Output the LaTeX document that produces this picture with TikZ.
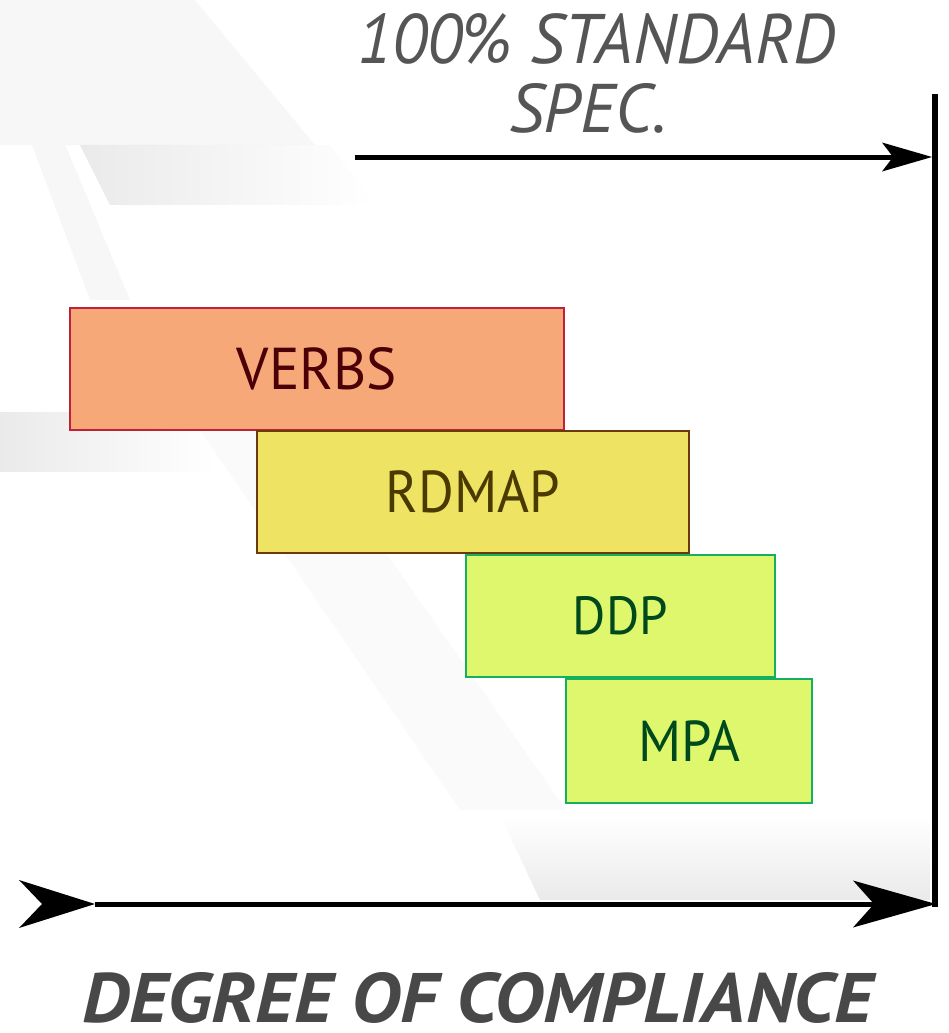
\documentclass[tikz,border=0pt]{standalone}
\usepackage{fontspec}
\setmainfont{PT Sans}
\usetikzlibrary{arrows.meta,fadings}
\definecolor{verbsfill}{RGB}{246,168,120}
\definecolor{verbsdraw}{RGB}{192,32,56}
\definecolor{verbstext}{RGB}{74,0,6}
\definecolor{rdmapfill}{RGB}{238,227,99}
\definecolor{rdmapdraw}{RGB}{106,58,12}
\definecolor{rdmaptext}{RGB}{74,58,0}
\definecolor{greenfill}{RGB}{223,247,109}
\definecolor{greendraw}{RGB}{20,176,96}
\definecolor{greentext}{RGB}{0,73,28}
\definecolor{titlegray}{RGB}{85,85,85}
\definecolor{axisgray}{RGB}{72,72,72}
\definecolor{wm}{RGB}{234,234,234}
\tikzset{
  levelbox/.style={draw, line width=2.5pt, inner sep=0pt, anchor=center},
  verbsbox/.style={levelbox, fill=verbsfill, draw=verbsdraw, text=verbstext},
  rdmapbox/.style={levelbox, fill=rdmapfill, draw=rdmapdraw, text=rdmaptext},
  greenbox/.style={levelbox, fill=greenfill, draw=greendraw, text=greentext},
  label/.style={inner sep=0pt, anchor=north west},
  axisline/.style={line width=5pt},
  shade1/.style={fill=black!3},
  shade2/.style={fill=wm}
}
\begin{document}
\begin{tikzpicture}[x=1pt,y=-1pt]
\useasboundingbox (0,0) rectangle (948,1033);
% faint background watermark
\fill[shade1] (0,0) -- (195,0) -- (315,145) -- (0,145) -- cycle;
\fill[shade2, path fading=east] (80,145) -- (330,145) -- (375,205) -- (110,205) -- cycle;
\fill[shade1] (0,60) -- (30,60) -- (130,300) -- (90,300) -- cycle;
\fill[shade2, path fading=east] (0,412) rectangle (215,472);
\fill[black!2] (200,430) -- (300,430) -- (566,810) -- (460,810) -- cycle;
\fill[shade2, path fading=north] (500,815) -- (930,815) -- (930,900) -- (540,900) -- cycle;

% level boxes
\node[verbsbox, minimum width=494pt, minimum height=122pt] (verbs) at (317,369) {\resizebox{160pt}{42pt}{VERBS}};
\node[rdmapbox, minimum width=432pt, minimum height=122pt] (rdmap) at (473,492) {\resizebox{174pt}{42pt}{RDMAP}};
\node[greenbox, minimum width=309pt, minimum height=122pt] (ddp) at (620.5,616) {\resizebox{95pt}{38pt}{DDP}};
\node[greenbox, minimum width=246pt, minimum height=124pt] (mpa) at (689,741) {\resizebox{102pt}{41pt}{MPA}};

% titles
\node[label, text=titlegray] (std1) at (357,13) {\resizebox{478pt}{50pt}{\itshape 100\% STANDARD}};
\node[label, text=titlegray] (std2) at (509,83) {\resizebox{158pt}{49pt}{\itshape SPEC.}};
\node[label, text=axisgray] (deg) at (82,972) {\resizebox{790pt}{50pt}{\bfseries\itshape DEGREE OF COMPLIANCE}};

% axes
\coordinate (vtop) at (934.5,94);
\coordinate (vbot) at (934.5,907);
\coordinate (tstart) at (355,157);
\coordinate (tend) at (932,157);
\coordinate (bstart) at (19,904);
\coordinate (bend) at (936,904);
\draw[line width=6pt] (vtop) -- (vbot);
\draw[axisline, -{Stealth[length=50pt, width=29pt, inset=11pt, line width=0pt]}] (tstart) -- (tend);
\draw[axisline, {Stealth[reversed, length=76pt, width=48pt, inset=23pt, line width=0pt]}-{Stealth[length=83pt, width=47pt, inset=21pt, line width=0pt]}] (bstart) -- (bend);
\end{tikzpicture}
\end{document}
